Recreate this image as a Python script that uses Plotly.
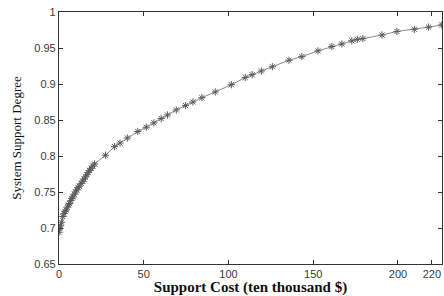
import plotly.graph_objects as go

cost = [0, 0.5, 0.9, 1.5, 2.2, 3.0, 3.6, 4.2, 5.0, 5.6, 6.2, 7.0, 7.6, 8.1, 9.0, 9.8,
        10.5, 11.3, 12.0, 13.1, 14.0, 14.8, 15.6, 16.5, 17.2, 18.0, 19.0, 20.0, 21.0,
        27.4, 32.8, 36.0, 40.3, 46.5, 51.5, 56.0, 60.3, 64.0, 69.2, 74.7, 79.0, 84.3,
        92.2, 101.7, 109.9, 114.0, 119.4, 125.9, 135.7, 143.3, 152.8, 161.0, 166.9,
        172.8, 176.0, 179.3, 190.6, 199.4, 209.7, 218.1, 225.8]
degree = [0.694, 0.699, 0.703, 0.708, 0.716, 0.720, 0.723, 0.725, 0.729, 0.732, 0.734,
          0.738, 0.741, 0.743, 0.747, 0.750, 0.753, 0.756, 0.758, 0.762, 0.765, 0.768,
          0.771, 0.774, 0.777, 0.780, 0.783, 0.786, 0.789, 0.801, 0.813, 0.818, 0.825,
          0.834, 0.840, 0.846, 0.852, 0.857, 0.864, 0.870, 0.875, 0.881, 0.889, 0.899,
          0.909, 0.913, 0.918, 0.924, 0.933, 0.938, 0.946, 0.952, 0.9556, 0.960, 0.962,
          0.963, 0.968, 0.973, 0.976, 0.979, 0.982]

x_ticks = [0, 50, 100, 150, 200, 220]
y_ticks = [0.65, 0.7, 0.75, 0.8, 0.85, 0.9, 0.95, 1]

fig = go.Figure(go.Scatter(
    x=cost, y=degree, mode="lines+markers",
    line=dict(color="#8a8a8a", width=1),
    marker=dict(symbol="asterisk-open", size=6, color="#5a5a5a",
                line=dict(color="#5a5a5a", width=1)),
))

axis_common = dict(showgrid=False, zeroline=False, showline=True, mirror="ticks",
                   linecolor="#333333", linewidth=1.2, ticks="inside", ticklen=4,
                   tickcolor="#333333", automargin=False,
                   tickfont=dict(family="Liberation Sans, Arial", size=11, color="#3a3a3a"))

fig.update_layout(
    width=444, height=296,
    margin=dict(l=59, r=2, t=12, b=32),
    paper_bgcolor="white", plot_bgcolor="white",
    showlegend=False,
    xaxis=dict(range=[0, 226], tickvals=x_ticks, ticktext=[str(v) for v in x_ticks],
               title=dict(text="<b>Support Cost (ten thousand $)</b>", standoff=5,
                          font=dict(family="Liberation Serif, Times New Roman", size=15,
                                    color="#111111")),
               **axis_common),
    yaxis=dict(range=[0.65, 1.0], tickvals=y_ticks,
               ticktext=["0.65", "0.7", "0.75", "0.8", "0.85", "0.9", "0.95", "1"],
               title=dict(text="System Support Degree", standoff=9,
                          font=dict(family="Liberation Serif, Times New Roman", size=13,
                                    color="#111111")),
               **axis_common),
)

fig.write_html("out.html", config={"displayModeBar": False})

with open("out.html", "r", encoding="utf-8") as f:
    html = f.read()
html = html.replace("<head>", "<head><style>html,body{margin:0;padding:0;overflow:hidden;}</style>", 1)
with open("out.html", "w", encoding="utf-8") as f:
    f.write(html)
